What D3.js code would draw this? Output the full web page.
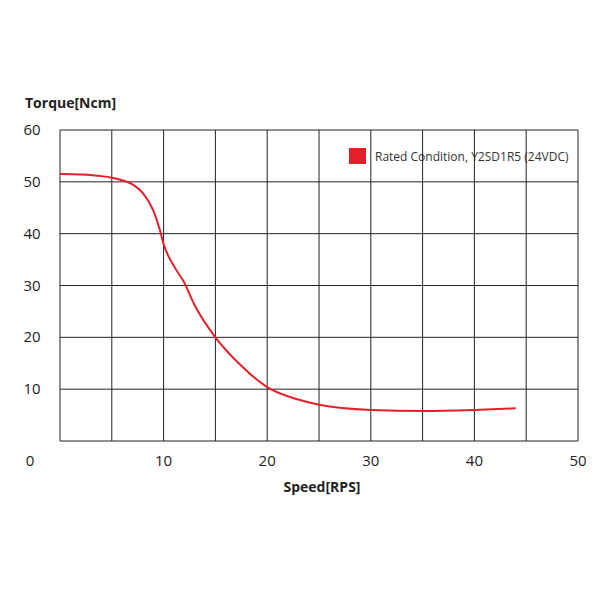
<!DOCTYPE html><html><head><meta charset="utf-8"><script src="https://cdn.jsdelivr.net/npm/d3@7"></script>
<style>body{margin:0;background:#fff}text{font-family:"Open Sans",sans-serif}</style></head><body>
<svg id="c" width="600" height="600"></svg>
<script>
const speed = [0,2,4,5,6,7,8,9,9.6,10,11.1,11.9,13,15,17.4,20,23,25,30,35,40,44];
const torque = [51.5,51.4,51.1,50.8,50.3,49.5,47.8,44.5,41,38,33.4,30.9,26.2,20,14.7,10.4,8,7,6,5.8,6,6.3];
const xTicks = [0,10,20,30,40,50];
const yTicks = [0,10,20,30,40,50,60];
const seriesName = "Rated Condition, Y2SD1R5 (24VDC)";
const svg = d3.select("#c");
const x = d3.scaleLinear().domain([0,50]).range([60,578]);
const y = d3.scaleLinear().domain([0,60]).range([441,130]);
const g = svg.append("g");
d3.range(0,51,5).forEach(v=>g.append("line").attr("x1",x(v)).attr("x2",x(v)).attr("y1",y(0)).attr("y2",y(60)).attr("stroke","#222").attr("stroke-width",1));
d3.range(0,61,10).forEach(v=>g.append("line").attr("x1",x(0)).attr("x2",x(50)).attr("y1",y(v)).attr("y2",y(v)).attr("stroke","#222").attr("stroke-width",1));
yTicks.filter(v=>v>0).forEach(v=>svg.append("text").attr("x",32).attr("y",y(v)+5).attr("text-anchor","middle").attr("font-size",15).attr("fill","#222").text(v));
xTicks.forEach(v=>svg.append("text").attr("x",v===0?30:x(v)).attr("y",466).attr("text-anchor","middle").attr("font-size",15).attr("fill","#222").text(v));
svg.append("text").attr("x",25).attr("y",108).attr("font-size",14).attr("font-weight","bold").attr("fill","#222").text("Torque[Ncm]");
svg.append("text").attr("x",322).attr("y",492).attr("text-anchor","middle").attr("font-size",14).attr("font-weight","bold").attr("fill","#222").text("Speed[RPS]");
svg.append("path").datum(speed.map((s,i)=>[s,torque[i]])).attr("fill","none").attr("stroke","#e32028").attr("stroke-width",2)
 .attr("d",d3.line().x(d=>x(d[0])).y(d=>y(d[1])).curve(d3.curveMonotoneX));
svg.append("rect").attr("x",349).attr("y",148).attr("width",17).attr("height",16).attr("fill","#e32028");
svg.append("text").attr("x",375).attr("y",161).attr("font-size",12).attr("fill","#333").text(seriesName);
</script></body></html>
